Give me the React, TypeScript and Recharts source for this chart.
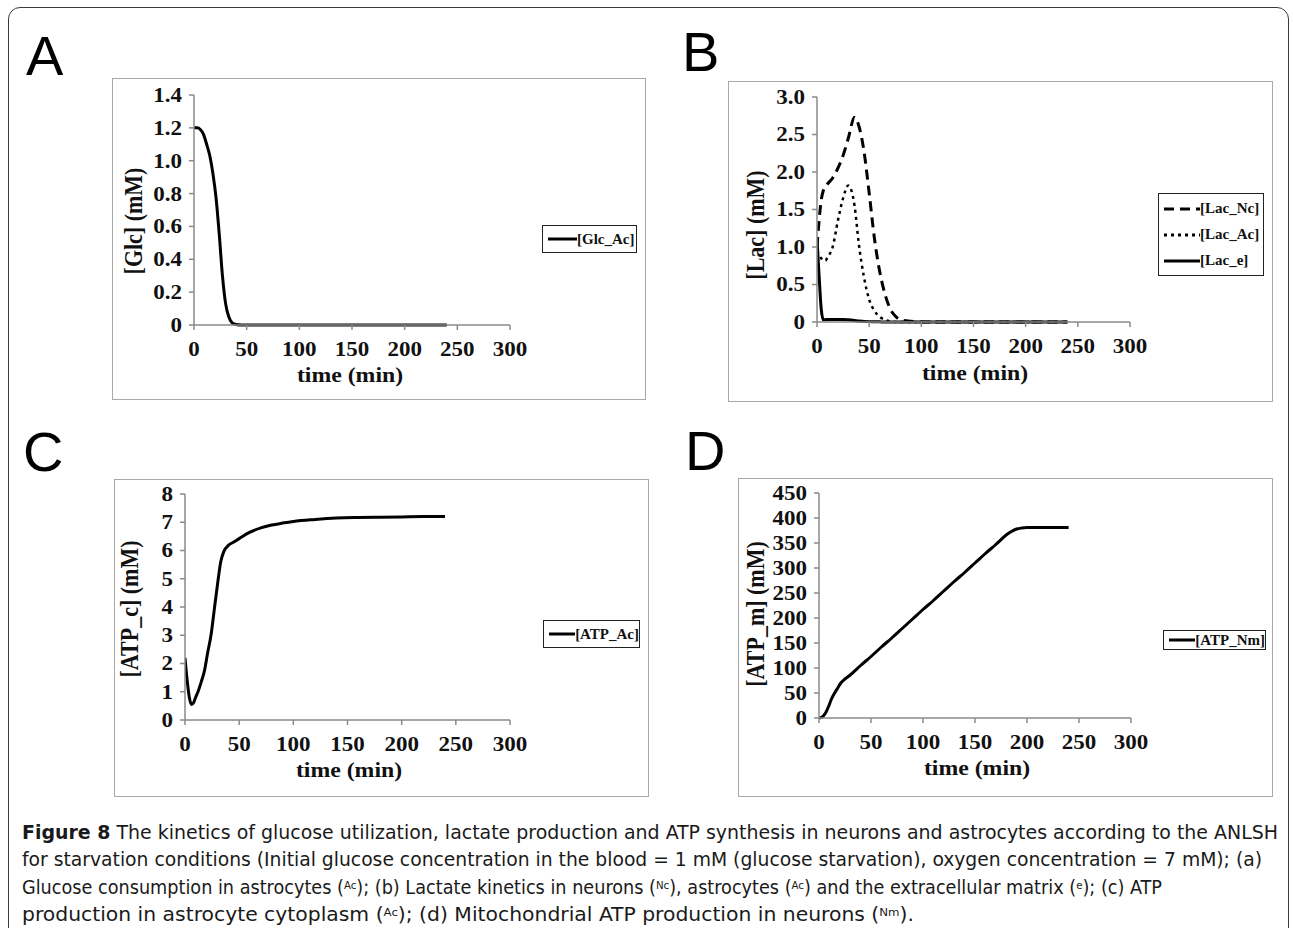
import { LineChart, Line, XAxis, YAxis, Legend } from 'recharts';

const SERIF = '"Liberation Serif", "Times New Roman", serif';
const SANS = '"Liberation Sans", Arial, sans-serif';
const NARROW = '"Liberation Sans Narrow", "DejaVu Sans Condensed", "Noto Sans", sans-serif';

const timeTicks = [0, 50, 100, 150, 200, 250, 300];

// (A) glucose in astrocytes
const glcTime = [0, 3, 6, 9, 12, 15, 18, 21, 24, 27, 30, 33, 36, 40, 45, 50, 60, 80, 100, 120, 140, 160, 180, 200, 220, 240];
const glcAc = [1.2, 1.2, 1.19, 1.16, 1.1, 1.03, 0.92, 0.77, 0.55, 0.3, 0.13, 0.05, 0.015, 0.003, 0, 0, 0, 0, 0, 0, 0, 0, 0, 0, 0, 0];
const glcTicks = [0, 0.2, 0.4, 0.6, 0.8, 1.0, 1.2, 1.4];

// (B) lactate
const lacTime = [0, 2, 4, 6, 8, 10, 15, 20, 25, 30, 36, 40, 45, 50, 55, 60, 65, 70, 75, 80, 90, 100, 120, 140, 160, 180, 200, 220, 240];
const lacNc = [1.0, 1.35, 1.62, 1.75, 1.8, 1.84, 1.92, 2.05, 2.22, 2.45, 2.73, 2.62, 2.28, 1.72, 1.12, 0.68, 0.38, 0.18, 0.08, 0.03, 0.01, 0, 0, 0, 0, 0, 0, 0, 0];
const lacAc = [0.95, 0.9, 0.85, 0.82, 0.82, 0.86, 1.0, 1.35, 1.65, 1.82, 1.55, 1.05, 0.6, 0.3, 0.15, 0.07, 0.03, 0.01, 0, 0, 0, 0, 0, 0, 0, 0, 0, 0, 0];
const lacE = [1.1, 0.62, 0.18, 0.03, 0.03, 0.035, 0.035, 0.035, 0.035, 0.03, 0.02, 0.012, 0.008, 0.005, 0.003, 0.002, 0, 0, 0, 0, 0, 0, 0, 0, 0, 0, 0, 0, 0];
const lacTicks = [0, 0.5, 1.0, 1.5, 2.0, 2.5, 3.0];

// (C) cytoplasmic ATP in astrocytes
const atpcTime = [0, 2, 4, 6, 8, 10, 12, 15, 18, 21, 24, 27, 30, 33, 36, 40, 45, 50, 60, 70, 80, 90, 100, 120, 140, 160, 180, 200, 220, 240];
const atpAc = [2.2, 1.4, 0.8, 0.55, 0.62, 0.82, 1.0, 1.35, 1.75, 2.4, 3.0, 3.9, 4.8, 5.6, 5.98, 6.18, 6.3, 6.42, 6.65, 6.8, 6.9, 6.97, 7.03, 7.1, 7.15, 7.17, 7.18, 7.19, 7.2, 7.2];
const atpcTicks = [0, 1, 2, 3, 4, 5, 6, 7, 8];

// (D) mitochondrial ATP in neurons
const atpmTime = [0, 3, 6, 9, 12, 15, 18, 21, 25, 30, 40, 50, 60, 70, 80, 90, 100, 110, 120, 130, 140, 150, 160, 170, 180, 185, 190, 195, 200, 210, 220, 230, 240];
const atpNm = [0, 2, 9, 22, 38, 50, 60, 70, 78, 86, 105, 123, 142, 160, 179, 198, 217, 235, 254, 273, 291, 310, 329, 347, 366, 373, 378, 380, 381, 381, 381, 381, 381];
const atpmTicks = [0, 50, 100, 150, 200, 250, 300, 350, 400, 450];

type Row = Record<string, number>;
const zip = (time: number[], cols: Record<string, number[]>): Row[] =>
  time.map((t, i) => {
    const row: Row = { t };
    Object.keys(cols).forEach((k) => (row[k] = cols[k][i]));
    return row;
  });

interface SeriesDef {
  key: string;
  name: string;
  dash?: string;
  width?: number;
}

interface Box {
  left: number;
  top: number;
  width: number;
  height: number;
}

interface PanelProps {
  box: Box;
  plot: { left: number; top: number; right: number; bottom: number };
  data: Row[];
  series: SeriesDef[];
  yDomain: [number, number];
  yTicks: number[];
  yFmt: (v: number) => string;
  yLabel: string;
  yLabelAt: [number, number];
  xLabelAt: [number, number];
  legend: Box;
}

const XTick = ({ x, y, payload }: any) => (
  <text
    x={x}
    y={y + 24}
    textAnchor="middle"
    fontFamily={SERIF}
    fontWeight="bold"
    fontSize={20}
    fill="#111"
    transform={`translate(${x},0) scale(1.15,1) translate(${-x},0)`}
  >
    {payload.value}
  </text>
);

const makeYTick = (fmt: (v: number) => string) => ({ x, y, payload }: any) => (
  <text
    x={x - 5}
    y={y + 7}
    textAnchor="end"
    fontFamily={SERIF}
    fontWeight="bold"
    fontSize={20}
    fill="#111"
    transform={`translate(${x - 5},0) scale(1.15,1) translate(${-(x - 5)},0)`}
  >
    {fmt(payload.value)}
  </text>
);

const makeLegend = (series: SeriesDef[]) => () => (
  <div
    style={{
      width: '100%',
      height: '100%',
      boxSizing: 'border-box',
      border: '1.5px solid #222',
      background: '#fff',
      display: 'flex',
      flexDirection: 'column',
      justifyContent: 'center',
      paddingLeft: 5,
    }}
  >
    {series.map((s) => (
      <div key={s.key} style={{ display: 'flex', alignItems: 'center', height: series.length > 1 ? 26 : 18 }}>
        <svg width={series.length > 1 ? 36 : 29} height={6} style={{ display: 'block' }}>
          <line x1={0} y1={3} x2={40} y2={3} stroke="#000" strokeWidth={3} strokeDasharray={s.dash} />
        </svg>
        <span style={{ fontFamily: SERIF, fontWeight: 'bold', fontSize: 15, color: '#111', lineHeight: 1 }}>{s.name}</span>
      </div>
    ))}
  </div>
);

const Panel = (p: PanelProps) => {
  const axisStroke = '#8a8a8a';
  return (
    <>
      <div
        style={{
          position: 'absolute',
          left: p.box.left,
          top: p.box.top,
          width: p.box.width,
          height: p.box.height,
          boxSizing: 'border-box',
          border: '1.5px solid #a8a8a8',
        }}
      />
      <div style={{ position: 'absolute', left: p.box.left, top: p.box.top }}>
        <LineChart
          width={p.box.width}
          height={p.box.height}
          data={p.data}
          margin={{ top: p.plot.top, right: p.box.width - p.plot.right, bottom: 0, left: 0 }}
        >
          <XAxis
            dataKey="t"
            type="number"
            domain={[0, 300]}
            ticks={timeTicks}
            allowDataOverflow
            height={p.box.height - p.plot.bottom}
            stroke={axisStroke}
            strokeWidth={1.5}
            tickSize={5}
            tick={<XTick />}
          />
          <YAxis
            type="number"
            domain={p.yDomain}
            ticks={p.yTicks}
            width={p.plot.left}
            stroke={axisStroke}
            strokeWidth={1.5}
            tickSize={5}
            tick={makeYTick(p.yFmt)}
          />
          <Legend
            layout="vertical"
            align="center"
            verticalAlign="middle"
            content={makeLegend(p.series)}
            wrapperStyle={{
              left: p.legend.left,
              top: p.legend.top,
              width: p.legend.width,
              height: p.legend.height,
              right: 'auto',
              bottom: 'auto',
            }}
          />
          {p.series.map((s) => (
            <Line
              key={s.key}
              dataKey={s.key}
              name={s.name}
              type="monotone"
              stroke="#000"
              strokeWidth={s.width ?? 3}
              strokeDasharray={s.dash}
              dot={false}
              activeDot={false}
              isAnimationActive={false}
            />
          ))}
        </LineChart>
      </div>
      <div
        style={{
          position: 'absolute',
          left: p.yLabelAt[0],
          top: p.yLabelAt[1],
          transform: 'translate(-50%, -50%) rotate(-90deg) scaleY(1.15)',
          whiteSpace: 'nowrap',
          fontFamily: SERIF,
          fontWeight: 'bold',
          fontSize: 22,
          color: '#111',
          lineHeight: 1,
        }}
      >
        {p.yLabel}
      </div>
      <div
        style={{
          position: 'absolute',
          left: p.xLabelAt[0],
          top: p.xLabelAt[1],
          transform: 'translate(-50%, -50%) scaleX(1.08)',
          whiteSpace: 'nowrap',
          fontFamily: SERIF,
          fontWeight: 'bold',
          fontSize: 22,
          color: '#111',
          lineHeight: 1,
        }}
      >
        time (min)
      </div>
    </>
  );
};

const oneDec = (v: number) => (v === 0 ? '0' : v.toFixed(1));
const plain = (v: number) => String(v);

const Sup = ({ children }: { children: string }) => (
  <>
    <tspan fontSize={11} dy={-5}>
      {children}
    </tspan>
    <tspan dy={5}>)</tspan>
  </>
);

export default function App() {
  return (
    <div
      style={{
        position: 'fixed',
        left: 0,
        top: 0,
        width: 1293,
        height: 928,
        overflow: 'hidden',
        background: '#fff',
      }}
    >
      <div
        style={{
          position: 'absolute',
          left: 8,
          top: 7,
          width: 1281,
          height: 960,
          boxSizing: 'border-box',
          border: '1.5px solid #3a3a3a',
          borderRadius: 12,
        }}
      />
      <svg width={1293} height={928} style={{ position: 'absolute', left: 0, top: 0 }}>
        <g fontFamily={SANS} fontSize={56} fill="#000">
          <text x={26} y={75}>A</text>
          <text x={682} y={71}>B</text>
          <text x={23} y={471}>C</text>
          <text x={685} y={470}>D</text>
        </g>
        <g fontFamily={NARROW} fontSize={19} fill="#1a1a1a">
          <text x={22} y={839} textLength={1256} lengthAdjust="spacingAndGlyphs">
            <tspan fontWeight="bold">Figure 8</tspan> The kinetics of glucose utilization, lactate production and ATP synthesis in neurons and astrocytes according to the ANLSH
          </text>
          <text x={22} y={866} textLength={1240} lengthAdjust="spacingAndGlyphs">
            for starvation conditions (Initial glucose concentration in the blood = 1 mM (glucose starvation), oxygen concentration = 7 mM); (a)
          </text>
          <text x={22} y={894} textLength={1140} lengthAdjust="spacingAndGlyphs">
            Glucose consumption in astrocytes (<Sup>Ac</Sup>; (b) Lactate kinetics in neurons (<Sup>Nc</Sup>, astrocytes (<Sup>Ac</Sup> and the extracellular matrix (<Sup>e</Sup>; (c) ATP
          </text>
          <text x={22} y={921} textLength={892} lengthAdjust="spacingAndGlyphs">
            production in astrocyte cytoplasm (<Sup>Ac</Sup>; (d) Mitochondrial ATP production in neurons (<Sup>Nm</Sup>.
          </text>
        </g>
      </svg>

      <Panel
        box={{ left: 112, top: 78, width: 534, height: 322 }}
        plot={{ left: 82, top: 17, right: 398, bottom: 247 }}
        data={zip(glcTime, { glcAc })}
        series={[{ key: 'glcAc', name: '[Glc_Ac]' }]}
        yDomain={[0, 1.4]}
        yTicks={glcTicks}
        yFmt={oneDec}
        yLabel="[Glc] (mM)"
        yLabelAt={[134, 221]}
        xLabelAt={[350, 375]}
        legend={{ left: 430, top: 147, width: 95, height: 28 }}
      />
      <Panel
        box={{ left: 728, top: 81, width: 545, height: 321 }}
        plot={{ left: 89, top: 16, right: 402, bottom: 241 }}
        data={zip(lacTime, { lacNc, lacAc, lacE })}
        series={[
          { key: 'lacNc', name: '[Lac_Nc]', dash: '10 6' },
          { key: 'lacAc', name: '[Lac_Ac]', dash: '3 4', width: 2.5 },
          { key: 'lacE', name: '[Lac_e]' },
        ]}
        yDomain={[0, 3]}
        yTicks={lacTicks}
        yFmt={oneDec}
        yLabel="[Lac] (mM)"
        yLabelAt={[756, 225]}
        xLabelAt={[975, 373]}
        legend={{ left: 430, top: 112, width: 106, height: 83 }}
      />
      <Panel
        box={{ left: 114, top: 479, width: 535, height: 318 }}
        plot={{ left: 71, top: 15, right: 396, bottom: 241 }}
        data={zip(atpcTime, { atpAc })}
        series={[{ key: 'atpAc', name: '[ATP_Ac]' }]}
        yDomain={[0, 8]}
        yTicks={atpcTicks}
        yFmt={plain}
        yLabel="[ATP_c] (mM)"
        yLabelAt={[130, 609]}
        xLabelAt={[349, 770]}
        legend={{ left: 429, top: 141, width: 97, height: 28 }}
      />
      <Panel
        box={{ left: 738, top: 478, width: 535, height: 319 }}
        plot={{ left: 81, top: 15, right: 393, bottom: 240 }}
        data={zip(atpmTime, { atpNm })}
        series={[{ key: 'atpNm', name: '[ATP_Nm]' }]}
        yDomain={[0, 450]}
        yTicks={atpmTicks}
        yFmt={plain}
        yLabel="[ATP_m] (mM)"
        yLabelAt={[756, 614]}
        xLabelAt={[977, 768]}
        legend={{ left: 425, top: 152, width: 103, height: 20 }}
      />
    </div>
  );
}
